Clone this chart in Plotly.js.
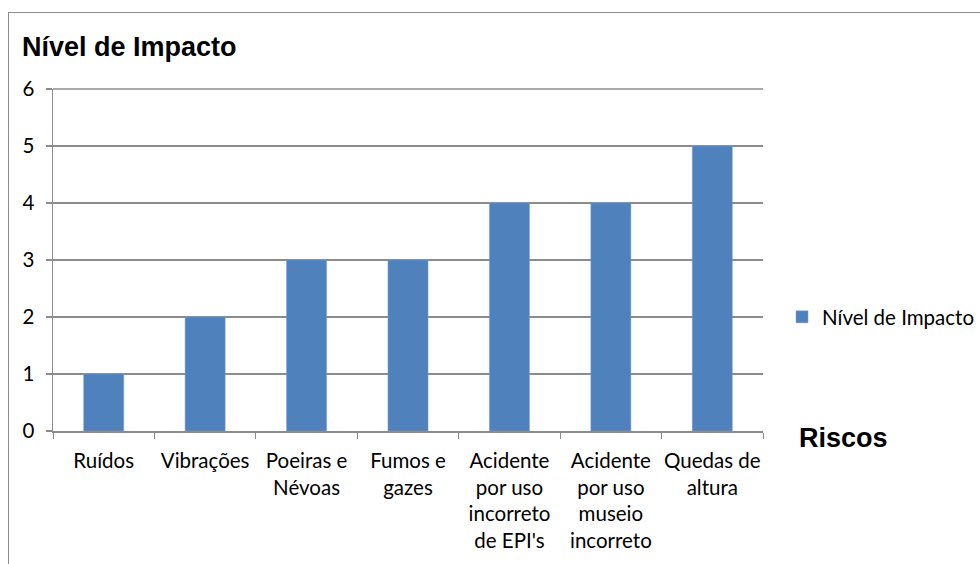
<!DOCTYPE html>
<html>
<head>
<meta charset="utf-8">
<script src="https://cdn.plot.ly/plotly-3.0.1.min.js"></script>
<style>
html,body{margin:0;padding:0;background:#fff;}
#wrap{position:relative;width:980px;height:564px;overflow:hidden;}
#chart{position:absolute;left:0;top:0;width:980px;height:564px;}
#frame{position:absolute;left:8px;top:12px;width:1000px;height:600px;border-left:1.5px solid #8c8c8c;border-top:1.5px solid #8c8c8c;pointer-events:none;}
</style>
</head>
<body>
<div id="wrap">
<div id="chart"></div>
<div id="frame"></div>
</div>
<script>
const categories = ["Ruídos", "Vibrações", "Poeiras e<br>Névoas", "Fumos e<br>gazes",
  "Acidente<br>por uso<br>incorreto<br>de EPI's", "Acidente<br>por uso<br>museio<br>incorreto", "Quedas de<br>altura"];
const values = [1, 2, 3, 3, 4, 4, 5];
const seriesName = "Nível de Impacto";
const yTicks = [0, 1, 2, 3, 4, 5, 6];

const labelFont = {family: "Lato, 'Open Sans', sans-serif", size: 20.5, color: "#000"};
const boldFont = {family: "'Liberation Sans', Arial, sans-serif", size: 27, color: "#000"};

Plotly.newPlot("chart", [{
  type: "bar",
  x: categories,
  y: values,
  name: seriesName,
  marker: {color: "#4F81BD", line: {color: "#7a9fd0", width: 0.5}},
  hoverinfo: "skip"
}], {
  width: 980, height: 564,
  margin: {l: 53, r: 217, t: 89, b: 133},
  paper_bgcolor: "#fff", plot_bgcolor: "#fff",
  bargap: 0.605,
  showlegend: true,
  title: {
    text: "<b>Nível de Impacto</b>",
    font: boldFont,
    xref: "container", yref: "container", x: 22/980, xanchor: "left", y: 1 - 47/564, yanchor: "middle"
  },
  xaxis: {
    type: "category",
    showgrid: false,
    showline: true, linecolor: "#8c8c8c", linewidth: 1.5,
    ticks: "outside", tickson: "boundaries", ticklen: 6, tickcolor: "#8c8c8c", tickwidth: 1,
    tickfont: labelFont,
    tickangle: 0,
    ticklabelstandoff: 11,
    automargin: false
  },
  yaxis: {
    range: [0, 6],
    tickvals: yTicks,
    showgrid: true, gridcolor: "#8c8c8c", gridwidth: 1.5,
    zeroline: false,
    showline: true, linecolor: "#8c8c8c", linewidth: 1.5,
    ticks: "outside", ticklen: 6, tickcolor: "#8c8c8c", tickwidth: 1.5,
    tickfont: labelFont,
    ticklabelstandoff: 7,
    automargin: false
  },
  legend: {
    xref: "container", yref: "container",
    x: 782/980, xanchor: "left", y: 1 - 317/564, yanchor: "middle",
    font: labelFont,
    bgcolor: "rgba(0,0,0,0)"
  },
  shapes: [{
    type: "line", xref: "paper", yref: "paper", x0: 0, x1: 1, y0: 1, y1: 1,
    line: {color: "#8c8c8c", width: 1.5}
  }],
  annotations: [{
    text: "<b>Riscos</b>",
    xref: "paper", yref: "paper", x: 1.048, y: -0.02, xanchor: "left", yanchor: "middle",
    showarrow: false,
    font: boldFont
  }]
}, {staticPlot: true});
</script>
</body>
</html>
